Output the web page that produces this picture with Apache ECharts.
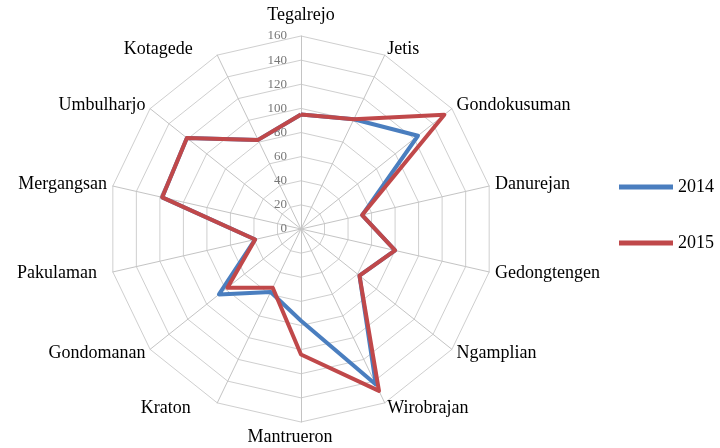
<!DOCTYPE html>
<html>
<head>
<meta charset="utf-8">
<script src="https://cdn.jsdelivr.net/npm/echarts@6/dist/echarts.min.js"></script>
<style>html,body{margin:0;padding:0;background:#fff}#c{width:720px;height:448px}</style>
</head>
<body>
<div id="c"></div>
<script>
var categories = ['Tegalrejo','Jetis','Gondokusuman','Danurejan','Gedongtengen','Ngamplian','Wirobrajan','Mantrueron','Kraton','Gondomanan','Pakulaman','Mergangsan','Umbulharjo','Kotagede'];
var values2014 = [95, 101, 124, 52, 80, 62, 143, 76, 58, 87, 39, 118, 121, 82];
var values2015 = [95, 101, 152, 52, 80, 62, 149, 104, 54, 78, 39, 118, 121, 82];
var seriesNames = ['2014', '2015'];
var axisMax = 160;

// per-label nudges (style only)
var namePadding = {
  Tegalrejo: [0, 0, 6, 0],
  Kotagede: [0, 22, 0, 0],
  Kraton: [0, 24, 0, 0],
  Mantrueron: [0, 22, 0, 0],
  Pakulaman: [0, 10, 0, 0],
  Wirobrajan: [18, 0, 0, 0],
  Ngamplian: [10, 0, 0, 0],
  Gondomanan: [10, 0, 0, 0],
  Gondokusuman: [0, 0, 4, 0],
  Umbulharjo: [0, 0, 4, 0]
};

// ECharts radar runs counter-clockwise; reorder so categories go clockwise from the top
var order = [0];
for (var k = categories.length - 1; k >= 1; k--) order.push(k);
function reorder(arr) { return order.map(function (i) { return arr[i]; }); }

var FONT = "'Liberation Serif', 'Times New Roman', serif";
var chart = echarts.init(document.getElementById('c'), null, {renderer: 'canvas'});
var indicators = reorder(categories).map(function (n, i) {
  var o = {name: n, max: axisMax, min: 0};
  if (namePadding[n]) o.nameTextStyle = {padding: namePadding[n]};
  if (i === 0) {
    o.axisLabel = {show: true};
  }
  return o;
});
chart.setOption({
  backgroundColor: '#ffffff',
  animation: false,
  legend: {
    orient: 'vertical',
    left: 614,
    top: 173,
    itemWidth: 54,
    itemHeight: 5,
    itemGap: 38,
    icon: 'rect',
    data: seriesNames,
    textStyle: {fontFamily: FONT, fontSize: 18, color: '#000'}
  },
  radar: {
    center: [301, 229],
    radius: 193,
    startAngle: 90,
    shape: 'polygon',
    splitNumber: 8,
    indicator: indicators,
    nameGap: 6,
    axisName: {fontFamily: FONT, fontSize: 18, color: '#000'},
    axisLine: {lineStyle: {color: '#c4c4c4', width: 1}},
    splitLine: {lineStyle: {color: '#cfcfcf', width: 1}},
    splitArea: {show: false},
    axisTick: {show: false},
    axisLabel: {show: false, fontFamily: FONT, fontSize: 13, color: '#777', align: 'right', margin: 14}
  },
  series: [{
    type: 'radar',
    symbol: 'none',
    data: [
      {name: seriesNames[0], value: reorder(values2014), lineStyle: {color: '#4a7ebf', width: 4}, itemStyle: {color: '#4a7ebf'}},
      {name: seriesNames[1], value: reorder(values2015), lineStyle: {color: '#c0484a', width: 4}, itemStyle: {color: '#c0484a'}}
    ]
  }]
});
</script>
</body>
</html>
